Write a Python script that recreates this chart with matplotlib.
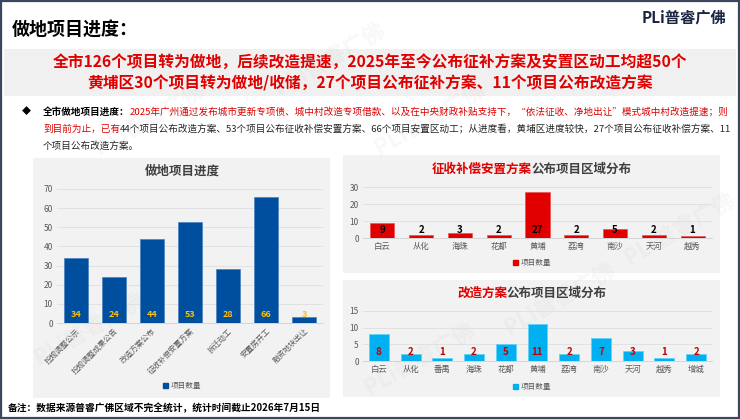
import matplotlib
matplotlib.use("Agg")
import matplotlib.pyplot as plt
from matplotlib.patches import Rectangle, Patch

plt.rcParams['font.family'] = ['Noto Sans CJK SC', 'DejaVu Sans']

W, H = 740, 419

# data
stage_names = ['控规调整公示', '控规调整成果公告', '改造方案公布', '征收补偿安置方案',
               '拆迁动工', '安置房开工', '融资地块出让']
stage_counts = [34, 24, 44, 53, 28, 66, 3]

comp_districts = ['白云', '从化', '海珠', '花都', '黄埔', '荔湾', '南沙', '天河', '越秀']
comp_counts = [9, 2, 3, 2, 27, 2, 5, 2, 1]

plan_districts = ['白云', '从化', '番禺', '海珠', '花都', '黄埔', '荔湾', '南沙', '天河', '越秀', '增城']
plan_counts = [8, 2, 1, 2, 5, 11, 2, 7, 3, 1, 2]

series_name = '项目数量'

RED = '#e00000'
DARK = '#262626'
GREY_TXT = '#595959'
PANEL = '#f2f2f2'


def fx(x):
    return x / W


def fy(y):
    return 1 - y / H


fig = plt.figure(figsize=(W / 100, H / 100), dpi=100)
renderer = fig.canvas.get_renderer()


def rect(x0, y0, x1, y1, **kw):
    fig.patches.append(Rectangle((fx(x0), fy(y1)), fx(x1) - fx(x0), fy(y0) - fy(y1),
                                 transform=fig.transFigure, **kw))


def rich(pieces, x, y, size, center=False):
    # draw coloured pieces one after another on one line
    texts = []
    for s, c, w in pieces:
        t = fig.text(0, fy(y), s, color=c, fontsize=size, fontweight=w, va='center')
        texts.append(t)
    widths = [t.get_window_extent(renderer).width for t in texts]
    cur = x - sum(widths) / 2 if center else x
    for t, w in zip(texts, widths):
        t.set_x(fx(cur))
        cur += w


# frame and panels (kept under the axes)
rect(1, 1, 739, 418, facecolor='white', edgecolor='#3b475e', lw=1.6, zorder=-3)
rect(4, 49, 736, 96, facecolor='#f0f0f0', edgecolor='none', zorder=-2)
rect(33, 158, 330, 398, facecolor=PANEL, edgecolor='none', zorder=-2)
rect(343, 155, 720, 273, facecolor=PANEL, edgecolor='none', zorder=-2)
rect(343, 280, 720, 397, facecolor=PANEL, edgecolor='none', zorder=-2)

# faint watermarks
for wx, wy in [(150, 120), (330, 60), (430, 120), (560, 300), (90, 330), (680, 230), (420, 360)]:
    fig.text(fx(wx), fy(wy), 'PLi普睿广佛', fontsize=16, fontweight='bold', color='#b0b0b0',
             alpha=0.09, rotation=30, ha='center', va='center', zorder=-1)

# header
fig.text(fx(12), fy(30), '做地项目进度：', fontsize=13, fontweight='bold', color='black', va='center')
fig.text(fx(642), fy(17), 'PLi普睿广佛', fontsize=11, fontweight='bold', color='#1b2440',
         va='center', style='italic')

fig.text(0.5, fy(62), '全市126个项目转为做地，后续改造提速，2025年至今公布征补方案及安置区动工均超50个',
         fontsize=11.3, fontweight='bold', color=RED, ha='center', va='center')
fig.text(0.5, fy(83), '黄埔区30个项目转为做地/收储，27个项目公布征补方案、11个项目公布改造方案',
         fontsize=11.3, fontweight='bold', color=RED, ha='center', va='center')

# body paragraph
fig.text(fx(26), fy(112), '◆', fontsize=6.5, color='black', va='center', ha='center')
rich([('全市做地项目进度：', 'black', 'bold'),
      ('2025年广州通过发布城市更新专项债、城中村改造专项借款、以及在中央财政补贴支持下，“依法征收、净地出让”模式城中村改造提速；则',
       RED, 'normal')], 43, 112, 6.9)
rich([('到目前为止，已有', RED, 'normal'),
      ('44个项目公布改造方案、53个项目公布征收补偿安置方案、66个项目安置区动工；从进度看，黄埔区进度较快，27个项目公布征收补偿方案、11',
       DARK, 'normal')], 43, 129, 6.9)
rich([('个项目公布改造方案。', DARK, 'normal')], 43, 146, 6.9)

fig.text(fx(8), fy(408), '备注：数据来源普睿广佛区域不完全统计，统计时间截止2026年7月15日',
         fontsize=7, fontweight='bold', color='black', va='center')


def style_axes(ax, ymax, step):
    ax.set_facecolor('none')
    ax.set_ylim(0, ymax)
    ax.set_yticks(range(0, ymax + 1, step))
    ax.grid(axis='y', color='#dedede', lw=0.6)
    ax.set_axisbelow(True)
    for s in ['top', 'right', 'left']:
        ax.spines[s].set_visible(False)
    ax.spines['bottom'].set_color('#d0d0d0')
    ax.spines['bottom'].set_linewidth(0.6)
    ax.tick_params(length=0, labelsize=6, labelcolor=GREY_TXT, pad=3)


def legend_at(ax, color, x, y):
    ax.legend(handles=[Patch(color=color, label=series_name)], loc='center',
              bbox_to_anchor=(fx(x), fy(y)), bbox_transform=fig.transFigure, frameon=False,
              fontsize=5.5, handlelength=0.7, handleheight=0.7, handletextpad=0.4,
              labelcolor=GREY_TXT)


# left chart
ax1 = fig.add_axes([fx(57), fy(323), fx(323) - fx(57), fy(189) - fy(323)])
style_axes(ax1, 70, 10)
x1 = range(len(stage_names))
ax1.bar(x1, stage_counts, width=0.62, color='#004f9f', edgecolor='#4a7fc0', lw=0.5, zorder=2)
ax1.set_xlim(-0.5, len(stage_names) - 0.5)
ax1.set_xticks(list(x1))
ax1.set_xticklabels(stage_names, rotation=45, ha='right', rotation_mode='anchor', fontsize=5.5)
for i, v in enumerate(stage_counts):
    ax1.annotate(str(v), (i, 0), xytext=(0, 3), textcoords='offset points', ha='center',
                 va='bottom', fontsize=6.5, fontweight='bold', color='#ffc000', zorder=3)
fig.text(fx(182), fy(171), '做地项目进度', fontsize=9, fontweight='bold', color='#404040',
         ha='center', va='center')
legend_at(ax1, '#004f9f', 182, 386)

# top right chart
ax2 = fig.add_axes([fx(363), fy(238), fx(712) - fx(363), fy(187) - fy(238)])
style_axes(ax2, 30, 10)
x2 = range(len(comp_districts))
ax2.bar(x2, comp_counts, width=0.62, color=RED, edgecolor='#f05050', lw=0.5, zorder=2)
ax2.set_xlim(-0.5, len(comp_districts) - 0.5)
ax2.set_xticks(list(x2))
ax2.set_xticklabels(comp_districts)
for i, v in enumerate(comp_counts):
    ax2.annotate(str(v), (i, 0), xytext=(0, 2.5), textcoords='offset points', ha='center',
                 va='bottom', fontsize=7, fontweight='bold', color='black', zorder=3)
rich([('征收补偿安置方案', RED, 'bold'), ('公布项目区域分布', '#404040', 'bold')], 532, 169, 9,
     center=True)
legend_at(ax2, RED, 532, 263)

# bottom right chart
ax3 = fig.add_axes([fx(363), fy(361), fx(712) - fx(363), fy(311) - fy(361)])
style_axes(ax3, 15, 5)
x3 = range(len(plan_districts))
ax3.bar(x3, plan_counts, width=0.63, color='#00b0f0', edgecolor='#60d0f8', lw=0.5, zorder=2)
ax3.set_xlim(-0.5, len(plan_districts) - 0.5)
ax3.set_xticks(list(x3))
ax3.set_xticklabels(plan_districts)
for i, v in enumerate(plan_counts):
    ax3.annotate(str(v), (i, 0), xytext=(0, 3), textcoords='offset points', ha='center',
                 va='bottom', fontsize=7, fontweight='bold', color='#c00000', zorder=3)
rich([('改造方案', RED, 'bold'), ('公布项目区域分布', '#404040', 'bold')], 532, 293, 9,
     center=True)
legend_at(ax3, '#00b0f0', 532, 387)

fig.savefig('out.png', dpi=100)
